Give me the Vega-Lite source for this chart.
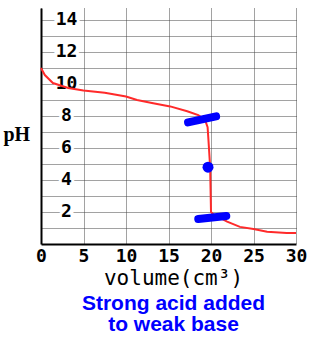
{
  "$schema": "https://vega.github.io/schema/vega-lite/v6.json",
  "width": 255,
  "height": 236,
  "autosize": "none",
  "padding": {"left": 41, "top": 8, "right": 17, "bottom": 96},
  "background": "white",
  "config": {"view": {"stroke": null}},
  "title": {
    "text": ["Strong acid added", "to weak base"],
    "orient": "bottom",
    "anchor": "middle",
    "color": "#0000ff",
    "font": "Liberation Sans",
    "fontWeight": "bold",
    "fontSize": 21,
    "lineHeight": 21,
    "offset": 5,
    "dx": 5
  },
  "datasets": {
    "curve": [
      {"v": 0, "ph": 11.0}, {"v": 0.45, "ph": 10.56}, {"v": 1.4, "ph": 10.06}, {"v": 3.2, "ph": 9.75},
      {"v": 5, "ph": 9.6}, {"v": 7.5, "ph": 9.45}, {"v": 10, "ph": 9.22}, {"v": 11.3, "ph": 9.0},
      {"v": 13.2, "ph": 8.8}, {"v": 15.2, "ph": 8.6}, {"v": 17.2, "ph": 8.3}, {"v": 18.5, "ph": 8.06},
      {"v": 19.3, "ph": 7.75}, {"v": 19.6, "ph": 7.3}, {"v": 19.7, "ph": 6.5}, {"v": 19.9, "ph": 4.8},
      {"v": 20.0, "ph": 2.0}, {"v": 20.3, "ph": 1.85}, {"v": 21.9, "ph": 1.4}, {"v": 23.4, "ph": 1.07},
      {"v": 25, "ph": 0.94}, {"v": 26.6, "ph": 0.77}, {"v": 28.9, "ph": 0.68}, {"v": 30, "ph": 0.68}
    ],
    "dashes": [
      {"s": "upper", "v": 17.3, "ph": 7.6}, {"s": "upper", "v": 20.6, "ph": 7.98},
      {"s": "lower", "v": 18.5, "ph": 1.56}, {"s": "lower", "v": 21.8, "ph": 1.75}
    ],
    "dot": [{"v": 19.65, "ph": 4.8}],
    "labels": [
      {"v": 3, "ph": 2, "t": "2"}, {"v": 3, "ph": 4, "t": "4"}, {"v": 3, "ph": 6, "t": "6"},
      {"v": 3, "ph": 8, "t": "8"}, {"v": 3, "ph": 10, "t": "10"}, {"v": 3, "ph": 12, "t": "12"},
      {"v": 3, "ph": 14, "t": "14"}
    ]
  },
  "layer": [
    {
      "data": {"name": "labels"},
      "mark": {"type": "text", "font": "DejaVu Sans Mono", "fontWeight": "bold", "fontSize": 18, "fill": "white", "stroke": "white", "strokeWidth": 6, "baseline": "middle"},
      "encoding": {
        "x": {
          "field": "v", "type": "quantitative",
          "scale": {"domain": [0, 30], "nice": false, "zero": false},
          "axis": {
            "values": [0, 5, 10, 15, 20, 25, 30], "tickCount": 40,
            "grid": true, "gridColor": "#444", "gridDash": [1, 1], "gridWidth": 1, "gridOpacity": 1,
            "domainColor": "black", "domainWidth": 2, "ticks": false,
            "labelFont": "DejaVu Sans Mono", "labelFontWeight": "bold", "labelFontSize": 18,
            "labelColor": "black", "labelPadding": 3, "labelFlush": false,
            "title": "volume(cm³)", "titleFont": "DejaVu Sans Mono", "titleFontWeight": "normal",
            "titleFontSize": 21, "titleColor": "black", "titlePadding": 2, "titleX": 132
          }
        },
        "y": {
          "field": "ph", "type": "quantitative",
          "scale": {"domain": [0, 14.75], "nice": false, "zero": false},
          "axis": {
            "values": [1, 2, 3, 4, 5, 6, 7, 8, 9, 10, 11, 12, 13, 14], "tickCount": 40,
            "grid": true, "gridColor": "#444", "gridDash": [1, 1], "gridWidth": 1, "gridOpacity": 1,
            "domainColor": "black", "domainWidth": 2, "ticks": false, "labels": false,
            "title": "pH", "titleAngle": 0, "titleAlign": "left", "titleBaseline": "alphabetic",
            "titleX": -38, "titleY": 132, "titleFont": "Liberation Serif", "titleFontWeight": "bold",
            "titleFontSize": 20, "titleColor": "black"
          }
        },
        "text": {"field": "t"}
      }
    },
    {
      "data": {"name": "labels"},
      "mark": {"type": "text", "font": "DejaVu Sans Mono", "fontWeight": "bold", "fontSize": 18, "fill": "black", "baseline": "middle"},
      "encoding": {
        "x": {"field": "v", "type": "quantitative"},
        "y": {"field": "ph", "type": "quantitative"},
        "text": {"field": "t"}
      }
    },
    {
      "data": {"name": "curve"},
      "mark": {"type": "line", "color": "#ff2a2a", "strokeWidth": 2},
      "encoding": {
        "x": {"field": "v", "type": "quantitative"},
        "y": {"field": "ph", "type": "quantitative"}
      }
    },
    {
      "data": {"name": "dashes"},
      "mark": {"type": "line", "color": "#0000ff", "strokeWidth": 8, "strokeCap": "round"},
      "encoding": {
        "x": {"field": "v", "type": "quantitative"},
        "y": {"field": "ph", "type": "quantitative"},
        "detail": {"field": "s"}
      }
    },
    {
      "data": {"name": "dot"},
      "mark": {"type": "point", "filled": true, "color": "#0000ff", "size": 120, "opacity": 1},
      "encoding": {
        "x": {"field": "v", "type": "quantitative"},
        "y": {"field": "ph", "type": "quantitative"}
      }
    }
  ]
}
